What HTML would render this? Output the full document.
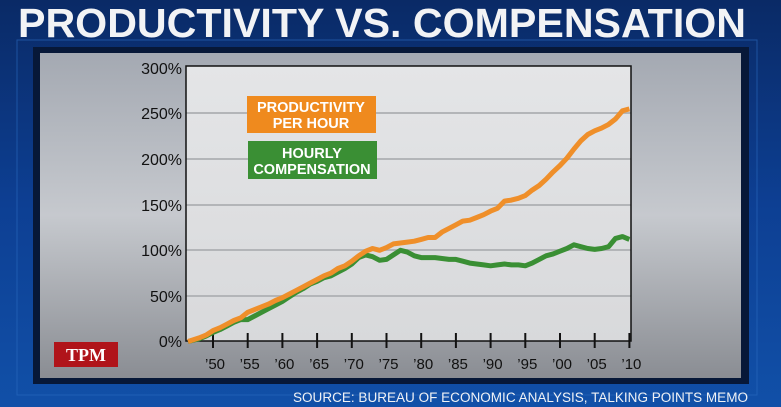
<!DOCTYPE html>
<html><head><meta charset="utf-8"><style>
html,body{margin:0;padding:0;width:781px;height:407px;overflow:hidden;background:#0b3a8a}
svg{display:block}
</style></head><body>
<svg width="781" height="407" viewBox="0 0 781 407" xmlns="http://www.w3.org/2000/svg">
<defs>
<linearGradient id="bg" x1="0" y1="0" x2="0" y2="1">
<stop offset="0" stop-color="#0a2a66"/><stop offset="0.5" stop-color="#0d3f93"/><stop offset="1" stop-color="#1150a8"/></linearGradient>
<linearGradient id="panel" x1="0" y1="0" x2="0" y2="1">
<stop offset="0" stop-color="#a4a9b2"/><stop offset="0.5" stop-color="#c6c9ce"/><stop offset="1" stop-color="#8a8d93"/></linearGradient>
<linearGradient id="plot" x1="0" y1="0" x2="0" y2="1">
<stop offset="0" stop-color="#e4e5e7"/><stop offset="1" stop-color="#d8d9db"/></linearGradient>
</defs>
<rect width="781" height="407" fill="url(#bg)"/>
<rect x="17" y="40" width="740" height="355" fill="none" stroke="#2a6ac0" stroke-width="1" opacity="0.6"/>
<rect x="33" y="47" width="716" height="337" fill="#071838"/>
<rect x="40" y="53" width="701" height="325" fill="url(#panel)"/>
<text x="18" y="37" font-family="Liberation Sans, sans-serif" font-weight="bold" font-size="41" fill="#f2f3f5" textLength="728" lengthAdjust="spacingAndGlyphs">PRODUCTIVITY VS. COMPENSATION</text>
<rect x="186" y="66" width="445" height="275" fill="url(#plot)"/>
<g stroke="#b3b5b8" stroke-width="2">
<line x1="186" y1="113" x2="631" y2="113"/><line x1="186" y1="159" x2="631" y2="159"/>
<line x1="186" y1="205" x2="631" y2="205"/><line x1="186" y1="250" x2="631" y2="250"/>
<line x1="186" y1="296" x2="631" y2="296"/></g>
<rect x="186" y="66" width="445" height="275" fill="none" stroke="#111" stroke-width="1.5"/>
<g font-family="Liberation Sans, sans-serif" font-size="16" fill="#111" text-anchor="end">
<text x="182" y="74">300%</text><text x="182" y="119">250%</text><text x="182" y="165">200%</text>
<text x="182" y="211">150%</text><text x="182" y="256">100%</text><text x="182" y="302">50%</text><text x="182" y="347">0%</text></g>
<g id="ticks" stroke="#111" stroke-width="2"></g>
<g font-family="Liberation Sans, sans-serif" font-size="15" fill="#111" text-anchor="middle" id="xl"></g>
<polyline id="comp" fill="none" stroke="#3a8f34" stroke-width="5" stroke-linejoin="round"/>
<polyline id="prod" fill="none" stroke="#ef8f2a" stroke-width="5" stroke-linejoin="round"/>
<rect x="247" y="96" width="129" height="37" fill="#ef8a1e"/>
<rect x="248" y="141" width="129" height="38" fill="#3a8f34"/>
<g font-family="Liberation Sans, sans-serif" font-weight="bold" font-size="14.5" fill="#fff" text-anchor="middle">
<text x="311" y="112">PRODUCTIVITY</text><text x="311" y="128">PER HOUR</text>
<text x="312" y="158">HOURLY</text><text x="312" y="174">COMPENSATION</text></g>
<rect x="54" y="342" width="64" height="25" fill="#b0141a"/>
<text x="86" y="361" font-family="Liberation Serif, serif" font-weight="bold" font-size="18" fill="#fff" text-anchor="middle">TPM</text>
<text x="748" y="402" font-family="Liberation Sans, sans-serif" font-size="13.5" fill="#f0f2f5" text-anchor="end" textLength="455" lengthAdjust="spacingAndGlyphs">SOURCE: BUREAU OF ECONOMIC ANALYSIS, TALKING POINTS MEMO</text>
</svg>
<script>
var P=[0,4,7,12,15,19,23,26,32,35,38,41,45,48,52,56,60,64,68,72,75,80,83,88,94,99,102,100,103,107,108,109,110,112,114,114,120,124,128,132,133,136,139,143,146,154,155,157,160,166,171,178,186,193,201,211,220,227,231,234,238,244,253,255];
var C=[0,3,6,10,13,17,21,24,24,28,32,36,40,44,49,54,58,63,66,70,72,76,80,85,92,95,93,89,90,95,100,98,94,92,92,92,91,90,90,88,86,85,84,83,84,85,84,84,83,86,90,94,96,99,102,106,104,102,101,102,104,113,115,112];
function X(yr){return 213+(yr-1950)*6.94;}
function Y(v){return 341.5-v*0.912;}
function pts(a){return a.map(function(v,i){var yr=1947+i;var x=i==0?188:X(yr);return x.toFixed(1)+","+Y(v).toFixed(1);}).join(" ");}
document.getElementById("prod").setAttribute("points",pts(P));
document.getElementById("comp").setAttribute("points",pts(C));
var ns="http://www.w3.org/2000/svg",t=document.getElementById("ticks"),xl=document.getElementById("xl");
var labs=["’50","’55","’60","’65","’70","’75","’80","’85","’90","’95","’00","’05","’10"];
for(var i=0;i<13;i++){var x=X(1950+5*i);var l=document.createElementNS(ns,"line");
l.setAttribute("x1",x);l.setAttribute("x2",x);l.setAttribute("y1",333);l.setAttribute("y2",348);t.appendChild(l);
var s=document.createElementNS(ns,"text");s.setAttribute("x",x+2);s.setAttribute("y",369);s.textContent=labs[i];xl.appendChild(s);}
</script>
</body></html>
